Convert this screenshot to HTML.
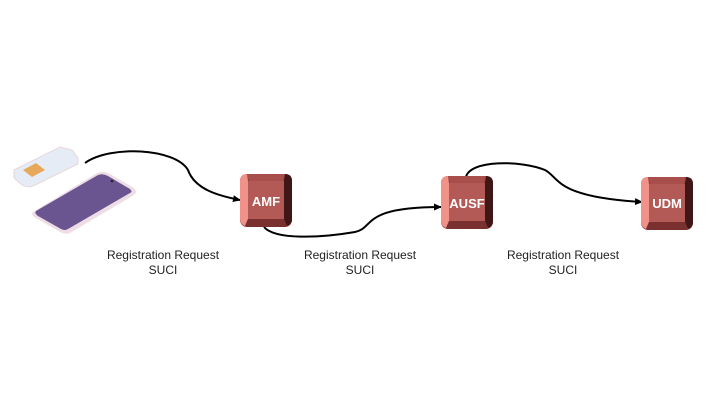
<!DOCTYPE html>
<html><head><meta charset="utf-8"><style>
html,body{margin:0;padding:0;background:#fff;width:720px;height:405px;overflow:hidden}
text{font-family:"Liberation Sans",sans-serif}
</style></head><body>
<svg width="720" height="405" viewBox="0 0 720 405" xmlns="http://www.w3.org/2000/svg">
<defs>
<marker id="ar" markerWidth="8" markerHeight="8" refX="7" refY="4" orient="auto" markerUnits="userSpaceOnUse">
<path d="M0,0.5 L8,4 L0,7.5 z" fill="#000"/></marker>
<g id="key">
<rect x="0" y="0" width="52" height="53" rx="7" fill="#8a3a38"/>
<path d="M7,0 H45 L43,7 H9 Z" fill="#a84e4b"/>
<path d="M0,7 Q0,0 7,0 L8,7 V45 L5,52 Q0,50 0,45 Z" fill="#f0918a"/>
<path d="M52,7 Q52,0 45,0 L44,7 V45 L47,52 Q52,50 52,45 Z" fill="#3e1716"/>
<path d="M5,52 L8,45 H44 L47,52 Q46,53 44,53 H8 Q6,53 5,52 Z" fill="#7a302e"/>
<rect x="8" y="7" width="36" height="38" fill="#b35a56"/>
</g>
</defs>
<path d="M14,170 L60,147 L72,150 L78,158 L78,164 L33,186 Q27,188 22,185 L14,178 Z" fill="#e6ecf6" stroke="#e8d6dc" stroke-width="1"/>
<path d="M23,170 L36,163 L45,170 L32,177 Z" fill="#e8a85a"/>
<path d="M33,212 L97,173 Q104,170 110,174 L134,188 Q138,192 134,195 L70,233 Q66,235 60,232 L34,217 Q31,214 33,212 Z" fill="#efdde6"/>
<path d="M36,211 L98,175 Q103,173 108,176 L130,189 Q133,192 130,193 L68,229 Q65,231 61,229 L38,216 Q34,213 36,211 Z" fill="#6b5590"/>
<circle cx="112" cy="181" r="1.3" fill="#222"/>
<path d="M85,163 C110,145 175,148 188,170 C195,190 220,196 240,200" fill="none" stroke="#000" stroke-width="2" marker-end="url(#ar)"/>
<path d="M264,227 C275,240 320,238 355,232 C375,228 360,207 441,207" fill="none" stroke="#000" stroke-width="2" marker-end="url(#ar)"/>
<path d="M466,177 C470,160 520,160 545,170 C560,178 555,197 642,202" fill="none" stroke="#000" stroke-width="2" marker-end="url(#ar)"/>
<use href="#key" x="240" y="174"/>
<use href="#key" x="441" y="176"/>
<use href="#key" x="641" y="177"/>
<text x="266" y="206" font-size="13" font-weight="bold" fill="#fff" text-anchor="middle">AMF</text>
<text x="467" y="208" font-size="13" font-weight="bold" fill="#fff" text-anchor="middle">AUSF</text>
<text x="667" y="208" font-size="13" font-weight="bold" fill="#fff" text-anchor="middle">UDM</text>
<g font-size="12" fill="#222" text-anchor="middle">
<text x="163" y="259">Registration Request</text><text x="163" y="274">SUCI</text>
<text x="360" y="259">Registration Request</text><text x="360" y="274">SUCI</text>
<text x="563" y="259">Registration Request</text><text x="563" y="274">SUCI</text>
</g>
</svg>
</body></html>
